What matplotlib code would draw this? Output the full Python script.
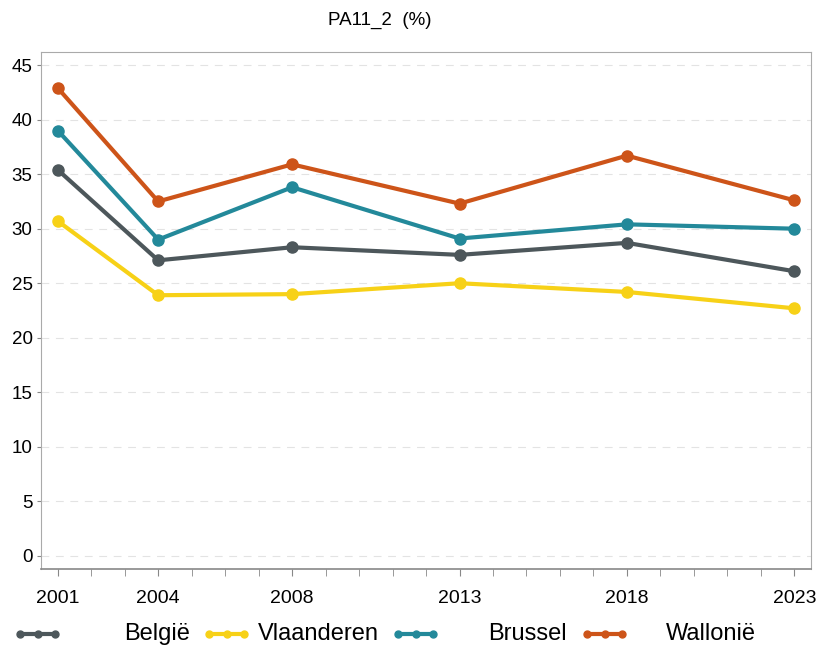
import matplotlib.pyplot as plt
from matplotlib.lines import Line2D

plt.rcParams["font.family"] = ["Liberation Sans", "DejaVu Sans"]

years = [2001, 2004, 2008, 2013, 2018, 2023]
regions = ["België", "Vlaanderen", "Brussel", "Wallonië"]
belgie = [35.4, 27.1, 28.3, 27.6, 28.7, 26.1]
vlaanderen = [30.7, 23.9, 24.0, 25.0, 24.2, 22.7]
brussel = [39.0, 29.0, 33.8, 29.1, 30.4, 30.0]
wallonie = [42.9, 32.5, 35.9, 32.3, 36.7, 32.6]
y_ticks = [0, 5, 10, 15, 20, 25, 30, 35, 40, 45]

colors = ["#4d575b", "#f7d117", "#23899a", "#cd5419"]
series = [belgie, vlaanderen, brussel, wallonie]

fig = plt.figure(figsize=(8.17, 6.47), dpi=100)
ax = fig.add_axes([0.0502, 0.1206, 0.9425, 0.799])

for values, color in zip(series, colors):
    ax.plot(years, values, color=color, lw=3, marker="o", ms=8, zorder=3)

ax.set_xlim(2000.5, 2023.5)
ax.set_ylim(-1.2, 46.2)
ax.set_yticks(y_ticks)
ax.set_xticks(years)
ax.set_xticks(range(2001, 2024), minor=True)
ax.grid(axis="y", color="#e3e3e3", ls=(0, (7, 6)), lw=0.8)
ax.set_axisbelow(True)

for side in ["left", "top", "right"]:
    ax.spines[side].set_color("#aaaaaa")
ax.spines["bottom"].set_color("#888888")
ax.spines["bottom"].set_linewidth(1.2)

ax.tick_params(axis="y", labelsize=13.5, length=3, color="#888888", pad=3)
ax.tick_params(axis="x", which="both", length=5, color="#888888")
ax.tick_params(axis="x", labelsize=14, pad=10)

fig.text(380 / 817, 1 - 20 / 647, "PA11_2  (%)", ha="center", va="center", fontsize=13.5)

# legend: handle on the left of each column, label right-aligned
legend_y = 1 - 634 / 647
for i, (name, color) in enumerate(zip(regions, colors)):
    x0 = (20 + i * 189) / 817
    x1 = x0 + 35 / 817
    fig.add_artist(Line2D([x0, x1], [legend_y, legend_y], color=color, lw=3,
                          transform=fig.transFigure))
    fig.add_artist(Line2D([x0, (x0 + x1) / 2, x1], [legend_y] * 3, color=color,
                          lw=0, marker="o", ms=5, transform=fig.transFigure))
    fig.text((190 + i * 188.5) / 817, legend_y, name, ha="right", va="center",
             fontsize=17)

fig.savefig("out.png", dpi=100)
